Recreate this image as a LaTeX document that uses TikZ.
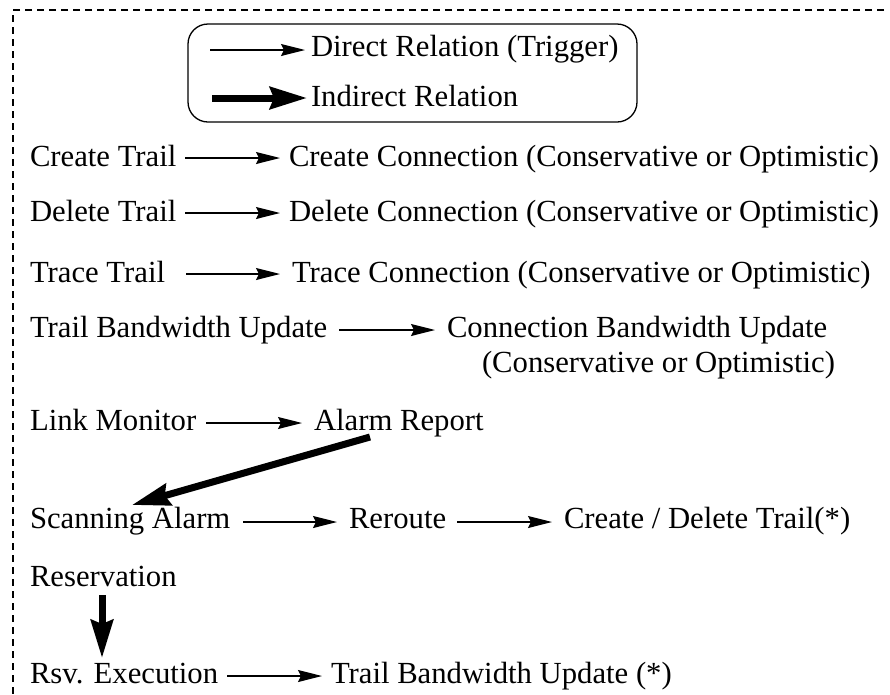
\documentclass[tikz,border=0pt]{standalone}
\usepackage{fontspec}
\setmainfont{Liberation Serif}
\usetikzlibrary{arrows.meta}
\begin{document}
\begin{tikzpicture}[x=1pt,y=-1pt,
  font=\fontsize{30.7}{36}\selectfont,
  lbl/.style={anchor=base west,inner sep=0pt,outer sep=0pt},
  thinarrow/.style={line width=1.3pt,-{Stealth[length=24pt,width=12pt,inset=3pt]}},
  thickarrow/.style={line width=7pt,-{Stealth[length=38pt,width=22pt,inset=4pt]}},
  frame/.style={line width=1.3pt,dash pattern=on 7pt off 5pt}]
\useasboundingbox (0,0) rectangle (890,694);
% outer dashed frame (top and left edges only)
\draw[frame] (884,10) -- (13,10) -- (13,694);
% legend
\node[draw,line width=1.3pt,rounded corners=20pt,minimum width=449pt,minimum height=98pt,inner sep=0pt] (legend) at (412.5,73) {};
\coordinate (l1a) at (210,50);
\coordinate (l1b) at (305,50);
\coordinate (l2a) at (212,98);
\coordinate (l2b) at (307,98);
\draw[thinarrow] (l1a) -- (l1b);
\draw[line width=7pt,-{Stealth[length=37pt,width=22pt,inset=4pt]}] (l2a) -- (l2b);
\node[lbl] (ldirect) at (311,56) {Direct Relation (Trigger)};
\node[lbl] (lindirect) at (311,106) {Indirect Relation};
% rows
\node[lbl] (ct) at (30,166) {Create Trail};
\node[lbl] (cc) at (289,166) {Create Connection (Conservative or Optimistic)};
\node[lbl] (dt) at (30,221) {Delete Trail};
\node[lbl] (dc) at (289,221) {Delete Connection (Conservative or Optimistic)};
\node[lbl] (tt) at (30,282) {Trace Trail};
\node[lbl] (tc) at (292,282) {Trace Connection (Conservative or Optimistic)};
\node[lbl] (tbu) at (30,337) {Trail Bandwidth Update};
\node[lbl] (cbu) at (447,337) {Connection Bandwidth Update};
\node[lbl] (cbu2) at (482,372) {(Conservative or Optimistic)};
\node[lbl] (lm) at (30,430) {Link Monitor};
\node[lbl] (ar) at (314,430) {Alarm Report};
\node[lbl] (sa) at (30,528) {Scanning Alarm};
\node[lbl] (rr) at (349,528) {Reroute};
\node[lbl] (cdt) at (564,528) {Create / Delete Trail(*)};
\node[lbl] (rsv) at (30,586) {Reservation};
\node[lbl] (rex) at (30,683) {Rsv. Execution};
\node[lbl] (tbu2) at (331,683) {Trail Bandwidth Update (*)};
% direct relations
\draw[thinarrow] ([shift={(-104,-8)}]cc.base west) -- ([shift={(-9,-8)}]cc.base west);
\draw[thinarrow] ([shift={(-104,-8)}]dc.base west) -- ([shift={(-9,-8)}]dc.base west);
\draw[thinarrow] ([shift={(-106,-8)}]tc.base west) -- ([shift={(-12,-8)}]tc.base west);
\draw[thinarrow] ([shift={(-108,-7)}]cbu.base west) -- ([shift={(-12,-7)}]cbu.base west);
\draw[thinarrow] ([shift={(-108,-7)}]ar.base west) -- ([shift={(-12,-7)}]ar.base west);
\draw[thinarrow] ([shift={(-106,-6)}]rr.base west) -- ([shift={(-12,-6)}]rr.base west);
\draw[thinarrow] ([shift={(-107,-6)}]cdt.base west) -- ([shift={(-12,-6)}]cdt.base west);
\draw[thinarrow] ([shift={(-104,-7)}]tbu2.base west) -- ([shift={(-9,-7)}]tbu2.base west);
% indirect relations
\draw[thickarrow] ([shift={(56,7)}]ar.base west) -- ([shift={(102,-23)}]sa.base west);
\draw[thickarrow] ([shift={(72,9)}]rsv.base west) -- ([shift={(72,-25)}]rex.base west);
\end{tikzpicture}
\end{document}
